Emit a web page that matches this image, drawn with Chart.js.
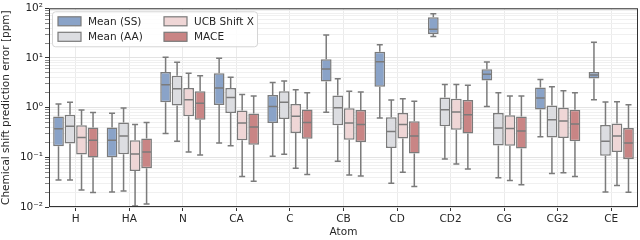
<!DOCTYPE html>
<html>
<head>
<meta charset="utf-8">
<script src="https://cdn.jsdelivr.net/npm/chart.js@4"></script>
<style>
  html, body { margin: 0; padding: 0; background: #fff; }
  #wrap { width: 640px; height: 240px; }
</style>
</head>
<body>
<div id="wrap"><canvas id="chart" width="640" height="240"></canvas></div>
<script>
const atoms = ['H', 'HA', 'N', 'CA', 'C', 'CB', 'CD', 'CD2', 'CG', 'CG2', 'CE'];
const seriesNames = ['Mean (SS)', 'Mean (AA)', 'UCB Shift X', 'MACE'];
const seriesColors = ['#8aa3c8', '#dcdde1', '#efd6d6', '#c98585'];

// Mean (SS)
const ssLow  = [0.035, 0.020, 0.30, 0.194, 0.105, 0.81, 0.62, 27, 1.05, 0.26, 1.44];
const ssQ1   = [0.168, 0.10, 1.28, 1.13, 0.49, 3.35, 2.63, 30.5, 3.5, 0.92, 3.85];
const ssMed  = [0.375, 0.22, 2.88, 2.5, 1.05, 6.0, 8.4, 38, 4.7, 1.56, 4.55];
const ssQ3   = [0.66, 0.40, 5.2, 4.9, 1.79, 9.4, 13.3, 66, 5.9, 2.55, 5.2];
const ssHigh = [1.19, 0.77, 10.3, 9.9, 3.2, 29, 18.4, 78, 8.3, 3.7, 20.8];

// Mean (AA)
const aaLow  = [0.035, 0.021, 0.21, 0.172, 0.115, 0.083, 0.030, 0.092, 0.039, 0.047, 0.020];
const aaQ1   = [0.19, 0.115, 1.1, 0.78, 0.59, 0.44, 0.154, 0.42, 0.174, 0.25, 0.107];
const aaMed  = [0.42, 0.27, 2.4, 1.6, 1.28, 1.0, 0.33, 0.91, 0.39, 0.57, 0.21];
const aaQ3   = [0.72, 0.50, 4.4, 2.5, 2.15, 1.76, 0.64, 1.6, 0.78, 1.1, 0.45];
const aaHigh = [1.28, 0.98, 8.2, 4.1, 3.45, 3.8, 1.42, 2.92, 2.0, 2.63, 1.3];

// UCB Shift X
const ucbLow  = [0.022, 0.0105, 0.128, 0.041, 0.06, 0.044, 0.050, 0.073, 0.034, 0.049, 0.027];
const ucbQ1   = [0.114, 0.053, 0.67, 0.22, 0.31, 0.226, 0.24, 0.36, 0.172, 0.244, 0.128];
const ucbMed  = [0.25, 0.117, 1.45, 0.49, 0.67, 0.49, 0.46, 0.82, 0.38, 0.54, 0.27];
const ucbQ3   = [0.44, 0.22, 2.5, 0.88, 1.19, 0.97, 0.78, 1.51, 0.70, 1.0, 0.48];
const ucbHigh = [0.9, 0.46, 4.9, 1.84, 2.3, 2.15, 1.51, 2.92, 1.71, 2.19, 1.32];

// MACE
const maceLow  = [0.0195, 0.0115, 0.112, 0.033, 0.045, 0.042, 0.026, 0.058, 0.028, 0.041, 0.0197];
const maceQ1   = [0.099, 0.06, 0.57, 0.18, 0.237, 0.203, 0.119, 0.30, 0.15, 0.21, 0.093];
const maceMed  = [0.22, 0.128, 1.22, 0.41, 0.50, 0.46, 0.27, 0.72, 0.34, 0.47, 0.194];
const maceQ3   = [0.40, 0.24, 2.15, 0.76, 0.92, 0.9, 0.53, 1.42, 0.66, 0.91, 0.39];
const maceHigh = [0.8, 0.50, 4.4, 1.71, 2.0, 2.06, 1.34, 2.84, 1.71, 1.99, 1.15];

const yTickValues = [0.01, 0.1, 1, 10, 100];
const yTickLabels = ['10\u207B\u00B2', '10\u207B\u00B9', '10\u2070', '10\u00B9', '10\u00B2'];

const edge = '#7b7b7b';
const FONT = "'DejaVu Sans', sans-serif";

function makeSet(i, low, q1, med, q3, high) {
  return {
    label: seriesNames[i],
    data: q1.map((v, k) => [v, q3[k]]),
    low: low, med: med, high: high,
    backgroundColor: seriesColors[i],
    borderColor: edge,
    borderWidth: 1.5,
    borderSkipped: false,
    categoryPercentage: 0.86,
    barPercentage: 0.93
  };
}

const whiskers = {
  id: 'whiskers',
  afterDatasetsDraw(chart) {
    const ctx = chart.ctx, y = chart.scales.y;
    ctx.save();
    ctx.strokeStyle = edge;
    ctx.lineWidth = 1.5;
    chart.data.datasets.forEach((ds, di) => {
      chart.getDatasetMeta(di).data.forEach((bar, i) => {
        const x = bar.x, cap = bar.width * 0.28, half = bar.width / 2;
        const pLow = y.getPixelForValue(ds.low[i]);
        const pHigh = y.getPixelForValue(ds.high[i]);
        const pQ1 = y.getPixelForValue(ds.data[i][0]);
        const pQ3 = y.getPixelForValue(ds.data[i][1]);
        const pMed = y.getPixelForValue(ds.med[i]);
        ctx.beginPath();
        ctx.moveTo(x, pQ3); ctx.lineTo(x, pHigh);
        ctx.moveTo(x - cap, pHigh); ctx.lineTo(x + cap, pHigh);
        ctx.moveTo(x, pQ1); ctx.lineTo(x, pLow);
        ctx.moveTo(x - cap, pLow); ctx.lineTo(x + cap, pLow);
        ctx.moveTo(x - half + 1, pMed); ctx.lineTo(x + half - 1, pMed);
        ctx.stroke();
      });
    });
    ctx.restore();
  }
};

const frameAndLegend = {
  id: 'frameAndLegend',
  afterDraw(chart) {
    const ctx = chart.ctx, a = chart.chartArea;
    ctx.save();
    ctx.strokeStyle = '#333';
    ctx.lineWidth = 1;
    ctx.strokeRect(a.left + 0.5, a.top + 0.5, a.right - a.left - 1, a.bottom - a.top - 1);

    // legend box, two columns
    const lx = a.left + 3, ly = a.top + 3;
    ctx.beginPath();
    ctx.roundRect(lx + 0.5, ly + 0.5, 205, 35, 3);
    ctx.fillStyle = 'rgba(255,255,255,0.85)';
    ctx.fill();
    ctx.strokeStyle = '#d5d5d5';
    ctx.stroke();
    ctx.font = '10.5px ' + FONT;
    ctx.textBaseline = 'middle';
    chart.data.datasets.forEach((ds, i) => {
      const col = Math.floor(i / 2), row = i % 2;
      const px = lx + 6 + col * 106, py = ly + 10 + row * 15.5;
      ctx.fillStyle = ds.backgroundColor;
      ctx.fillRect(px, py - 4.5, 23, 9);
      ctx.strokeStyle = edge;
      ctx.lineWidth = 1.2;
      ctx.strokeRect(px, py - 4.5, 23, 9);
      ctx.fillStyle = '#262626';
      ctx.fillText(ds.label, px + 30, py + 0.5);
    });
    ctx.restore();
  }
};

new Chart(document.getElementById('chart'), {
  type: 'bar',
  data: {
    labels: atoms,
    datasets: [
      makeSet(0, ssLow, ssQ1, ssMed, ssQ3, ssHigh),
      makeSet(1, aaLow, aaQ1, aaMed, aaQ3, aaHigh),
      makeSet(2, ucbLow, ucbQ1, ucbMed, ucbQ3, ucbHigh),
      makeSet(3, maceLow, maceQ1, maceMed, maceQ3, maceHigh)
    ]
  },
  options: {
    responsive: false,
    animation: false,
    layout: { padding: { top: 7, right: 2, left: 0, bottom: 0 } },
    plugins: { legend: { display: false }, tooltip: { enabled: false } },
    scales: {
      x: {
        grid: { offset: false, color: '#ebebeb', tickColor: '#333', tickLength: 4 },
        border: { display: false },
        ticks: { color: '#262626', font: { family: FONT, size: 10.5 }, padding: 2 },
        title: { display: true, text: 'Atom', color: '#262626', font: { family: FONT, size: 10.5 }, padding: { top: 0, bottom: 1 } },
        afterFit(s) { s.height = 33; }
      },
      y: {
        type: 'logarithmic',
        min: 0.01,
        max: 100,
        border: { display: false },
        grid: {
          color: c => (c.tick && c.tick.major) ? '#e3e3e3' : '#f0f0f0',
          tickColor: c => (c.tick && c.tick.major) ? '#333' : '#888',
          tickLength: 4
        },
        afterBuildTicks(s) {
          const t = [];
          yTickValues.forEach((d, k) => {
            if (k === yTickValues.length - 1) { t.push({ value: d, major: true }); return; }
            for (let m = 1; m < 10; m++) t.push({ value: d * m, major: m === 1 });
          });
          s.ticks = t;
        },
        ticks: {
          autoSkip: false,
          color: '#262626',
          font: { family: FONT, size: 10.5 },
          padding: 2,
          callback(v) {
            const k = yTickValues.findIndex(t => Math.abs(t - v) / t < 1e-6);
            return k >= 0 ? yTickLabels[k] : '';
          }
        },
        title: { display: true, text: 'Chemical shift prediction error [ppm]', color: '#262626', font: { family: FONT, size: 10.5 }, padding: { top: 0, bottom: 0 } },
        afterFit(s) { s.width = 49; }
      }
    }
  },
  plugins: [whiskers, frameAndLegend]
});
</script>
</body>
</html>
